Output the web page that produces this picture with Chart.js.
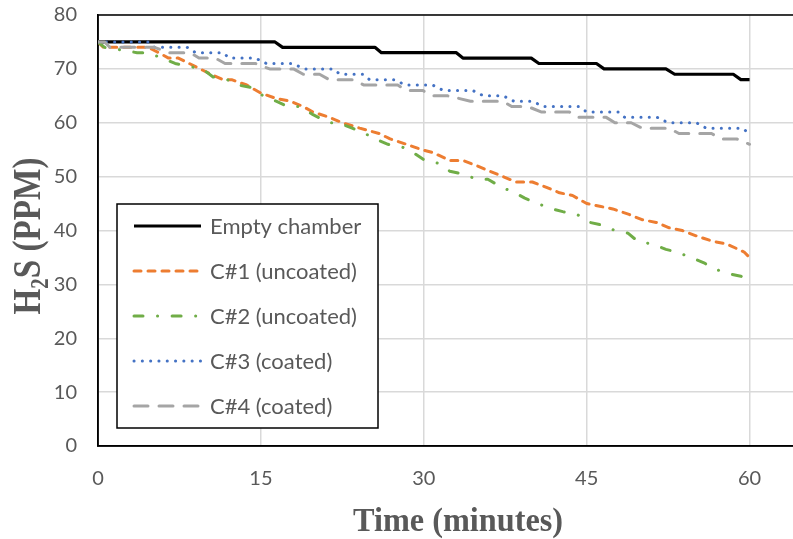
<!DOCTYPE html>
<html>
<head>
<meta charset="utf-8">
<script src="https://cdn.jsdelivr.net/npm/chart.js@4.4.0/dist/chart.umd.min.js"></script>
<style>
  body { margin: 0; background: #fff; }
  #wrap { width: 793px; height: 539px; }
</style>
</head>
<body>
<div id="wrap"><canvas id="myChart"></canvas></div>
<script>
var seriesNames = ["Empty chamber", "C#1 (uncoated)", "C#2 (uncoated)", "C#3 (coated)", "C#4 (coated)"];

// H2S readings (ppm) against time (minutes), one pair of arrays per run
var emptyTime = [0, 16.3, 17.0, 25.5, 26.1, 33.0, 33.6, 39.9, 40.6, 45.9, 46.6, 52.3, 53.1, 58.5, 59.2, 60];
var emptyPpm  = [75, 75, 74, 74, 73, 73, 72, 72, 71, 71, 70, 70, 69, 69, 68, 68];

var c1Time = [0, 0.5, 4.6, 5.6, 6.5, 7.4, 8.4, 9.4, 10.4, 11.5, 12.3, 13.7, 15.0, 16.4, 17.7, 18.9, 19.8, 21.3, 22.5, 24.1,
              25.9, 26.9, 28.4, 29.8, 30.8, 32.4, 33.6, 34.9, 36.1, 37.3, 38.5, 40.0, 41.3, 42.5, 43.7, 45.0, 46.2, 47.4, 48.9, 50.1,
              51.4, 52.6, 53.8, 55.1, 56.6, 57.9, 59.5, 60];
var c1Ppm  = [75, 74, 74, 73, 72, 72, 71, 70, 69, 68, 68, 67, 65.5, 64.5, 64, 63, 62, 61, 60, 59,
              58, 57, 56, 55, 54.5, 53, 53, 52, 51, 50, 49, 49, 48, 47, 46.5, 45, 44.5, 44, 43, 42,
              41.5, 40.5, 40, 39, 38, 37.5, 36, 35];

var c2Time = [0, 0.6, 2.2, 3.6, 4.6, 5.9, 7.1, 8.3, 9.6, 10.6, 11.9, 12.9, 14.2, 15.2, 16.4, 17.5, 18.6, 19.8, 21.3, 22.1,
              23.4, 24.6, 25.5, 26.7, 28.0, 29.0, 30.1, 31.3, 32.4, 33.6, 34.9, 35.9, 37.2, 38.4, 39.3, 40.5, 41.8, 42.8, 44.1, 45.3,
              46.4, 47.6, 48.8, 49.7, 51.0, 52.3, 53.3, 54.6, 55.8, 56.6, 58.0, 59.2, 60];
var c2Ppm  = [75, 74, 73.5, 73, 73, 72, 71, 70.5, 70, 68.5, 68, 67, 66.5, 65, 64, 63, 63, 61.5, 60, 60,
              59, 58, 57, 56, 55.5, 54.5, 53, 52.5, 51, 50.5, 49.5, 49.5, 48, 47, 46, 45, 44, 43.5, 43, 41.5,
              41, 40, 39.5, 38, 37.5, 36.5, 36, 35, 34, 33, 32, 31.5, 31];

var c3Time = [0, 4.6, 5.2, 8.2, 9.0, 11.5, 12.1, 14.5, 15.5, 17.9, 19.0, 21.6, 22.3, 24.4, 25.0, 27.3, 28.3, 30.8,
              31.8, 34.5, 35.5, 37.3, 38.3, 40.0, 41.0, 44.3, 45.0, 47.9, 48.5, 51.5, 52.5, 55.1, 56.0, 59.3, 60];
var c3Ppm  = [75, 75, 74, 74, 73, 73, 72, 72, 71, 71, 70, 70, 69, 69, 68, 68, 67, 67,
              66, 66, 65, 65, 64, 64, 63, 63, 62, 62, 61, 61, 60, 60, 59, 59, 58];

var c4Time = [0, 0.6, 1.1, 5.2, 6.5, 8.5, 9.3, 10.8, 11.7, 14.5, 15.8, 18.0, 18.9, 20.4, 21.3, 23.5, 24.5, 27.6, 28.4, 29.9,
              30.8, 32.2, 34.3, 37.3, 38.1, 39.6, 40.8, 43.4, 44.1, 46.8, 47.6, 49.1, 50.1, 52.6, 53.5, 56.5, 57.4, 58.8, 60];
var c4Ppm  = [75, 75, 74, 74, 73, 73, 72, 72, 71, 71, 70, 70, 69, 69, 68, 68, 67, 67, 66, 66,
              65, 65, 64, 64, 63, 63, 62, 62, 61, 61, 60, 60, 59, 59, 58, 58, 57, 57, 56];

var xTicks = [0, 15, 30, 45, 60];
var yTicks = [0, 10, 20, 30, 40, 50, 60, 70, 80];

var lineColors = ["#000000", "#ED7D31", "#70AD47", "#4472C4", "#A5A5A5"];
var lineDashes = [[], [7, 7], [9, 14.5, 0.1, 14.5], [0.1, 8.2], [14, 11]];
var lineWidths = [3.2, 3, 3, 3, 3];

var TEXT = "#595959";
var SANS = "Lato, 'Open Sans', sans-serif";

function pairUp(t, v) {
  return t.map(function (x, i) { return { x: x, y: v[i] }; });
}

var allRuns = [
  pairUp(emptyTime, emptyPpm),
  pairUp(c1Time, c1Ppm),
  pairUp(c2Time, c2Ppm),
  pairUp(c3Time, c3Ppm),
  pairUp(c4Time, c4Ppm)
];

var datasets = allRuns.map(function (pts, i) {
  return {
    label: seriesNames[i],
    data: pts,
    borderColor: lineColors[i],
    borderWidth: lineWidths[i],
    borderDash: lineDashes[i],
    borderCapStyle: i === 0 ? "butt" : "round",
    borderJoinStyle: "round",
    pointRadius: 0,
    tension: 0,
    fill: false,
    order: allRuns.length - i   // later runs sit on top
  };
});

// frame on top / left / bottom of the plot area
var plotFrame = {
  id: "plotFrame",
  beforeDatasetsDraw: function (chart) {
    var a = chart.chartArea, ctx = chart.ctx;
    ctx.save();
    ctx.strokeStyle = "#000";
    ctx.lineWidth = 1.5;
    ctx.beginPath();
    ctx.moveTo(a.right + 2, a.top);
    ctx.lineTo(a.left, a.top);
    ctx.lineTo(a.left, a.bottom);
    ctx.lineTo(a.right + 2, a.bottom);
    ctx.stroke();
    ctx.restore();
  }
};

// bold serif axis title squeezed to a given length, with a real subscript
function drawTitle(ctx, parts, cx, cy, angle, size, length) {
  ctx.save();
  ctx.translate(cx, cy);
  ctx.rotate(angle);
  var total = 0;
  parts.forEach(function (p) {
    ctx.font = "bold " + (p.sub ? size * 0.62 : size) + "px 'Liberation Serif', serif";
    p.w = ctx.measureText(p.text).width;
    total += p.w;
  });
  ctx.scale(length / total, 1);
  var x = -total / 2;
  ctx.fillStyle = TEXT;
  ctx.textBaseline = "middle";
  parts.forEach(function (p) {
    ctx.font = "bold " + (p.sub ? size * 0.62 : size) + "px 'Liberation Serif', serif";
    ctx.fillText(p.text, x, p.sub ? size * 0.3 : 0);
    x += p.w;
  });
  ctx.restore();
}

var axisTitles = {
  id: "axisTitles",
  afterDraw: function (chart) {
    var ctx = chart.ctx;
    drawTitle(ctx, [{ text: "Time (minutes)" }], 458, 522, 0, 34, 210);
    drawTitle(ctx, [{ text: "H" }, { text: "2", sub: true }, { text: "S (PPM)" }], 30, 236, -Math.PI / 2, 40, 157);
  }
};

// legend box sitting inside the plot area
var boxLegend = {
  id: "boxLegend",
  afterDatasetsDraw: function (chart) {
    var ctx = chart.ctx;
    var left = 117, top = 204, w = 261, h = 224, rowH = 45;
    ctx.save();
    ctx.fillStyle = "#fff";
    ctx.fillRect(left, top, w, h);
    ctx.strokeStyle = "#000";
    ctx.lineWidth = 1.5;
    ctx.strokeRect(left, top, w, h);
    chart.data.datasets.forEach(function (ds, i) {
      var y = top + 22 + i * rowH;
      ctx.beginPath();
      ctx.setLineDash(ds.borderDash);
      ctx.lineCap = ds.borderCapStyle;
      ctx.strokeStyle = ds.borderColor;
      ctx.lineWidth = ds.borderWidth;
      ctx.moveTo(left + 17, y);
      ctx.lineTo(left + 84, y);
      ctx.stroke();
      ctx.setLineDash([]);
      ctx.fillStyle = TEXT;
      ctx.font = "22px " + SANS;
      ctx.textBaseline = "middle";
      ctx.fillText(ds.label, left + 93, y + 1);
    });
    ctx.restore();
  }
};

function noOverhang(scale) {
  scale.paddingTop = 0;
  scale.paddingBottom = 0;
  scale.paddingLeft = 0;
  scale.paddingRight = 0;
}

new Chart("myChart", {
  type: "line",
  data: { datasets: datasets },
  options: {
    responsive: true,
    maintainAspectRatio: false,
    animation: false,
    layout: { padding: { top: 15, right: 0, left: 0, bottom: 0 } },
    plugins: {
      legend: { display: false },
      tooltip: { enabled: false }
    },
    scales: {
      x: {
        type: "linear",
        min: 0,
        max: 64,
        afterBuildTicks: function (scale) {
          scale.ticks = xTicks.map(function (v) { return { value: v }; });
        },
        afterFit: function (scale) { scale.height = 93; noOverhang(scale); },
        grid: { color: "#d9d9d9", lineWidth: 1.5, drawTicks: false },
        border: { display: true, color: "#000", width: 1.5 },
        ticks: { color: TEXT, font: { family: SANS, size: 20 }, padding: 21, maxRotation: 0 }
      },
      y: {
        type: "linear",
        min: 0,
        max: 80,
        afterBuildTicks: function (scale) {
          scale.ticks = yTicks.map(function (v) { return { value: v }; });
        },
        afterFit: function (scale) { scale.width = 98; noOverhang(scale); },
        grid: { color: "#d9d9d9", lineWidth: 1.5, drawTicks: false },
        border: { display: true, color: "#000", width: 1.5 },
        ticks: { color: TEXT, font: { family: SANS, size: 20 }, padding: 21 }
      }
    }
  },
  plugins: [plotFrame, boxLegend, axisTitles]
});
</script>
</body>
</html>
